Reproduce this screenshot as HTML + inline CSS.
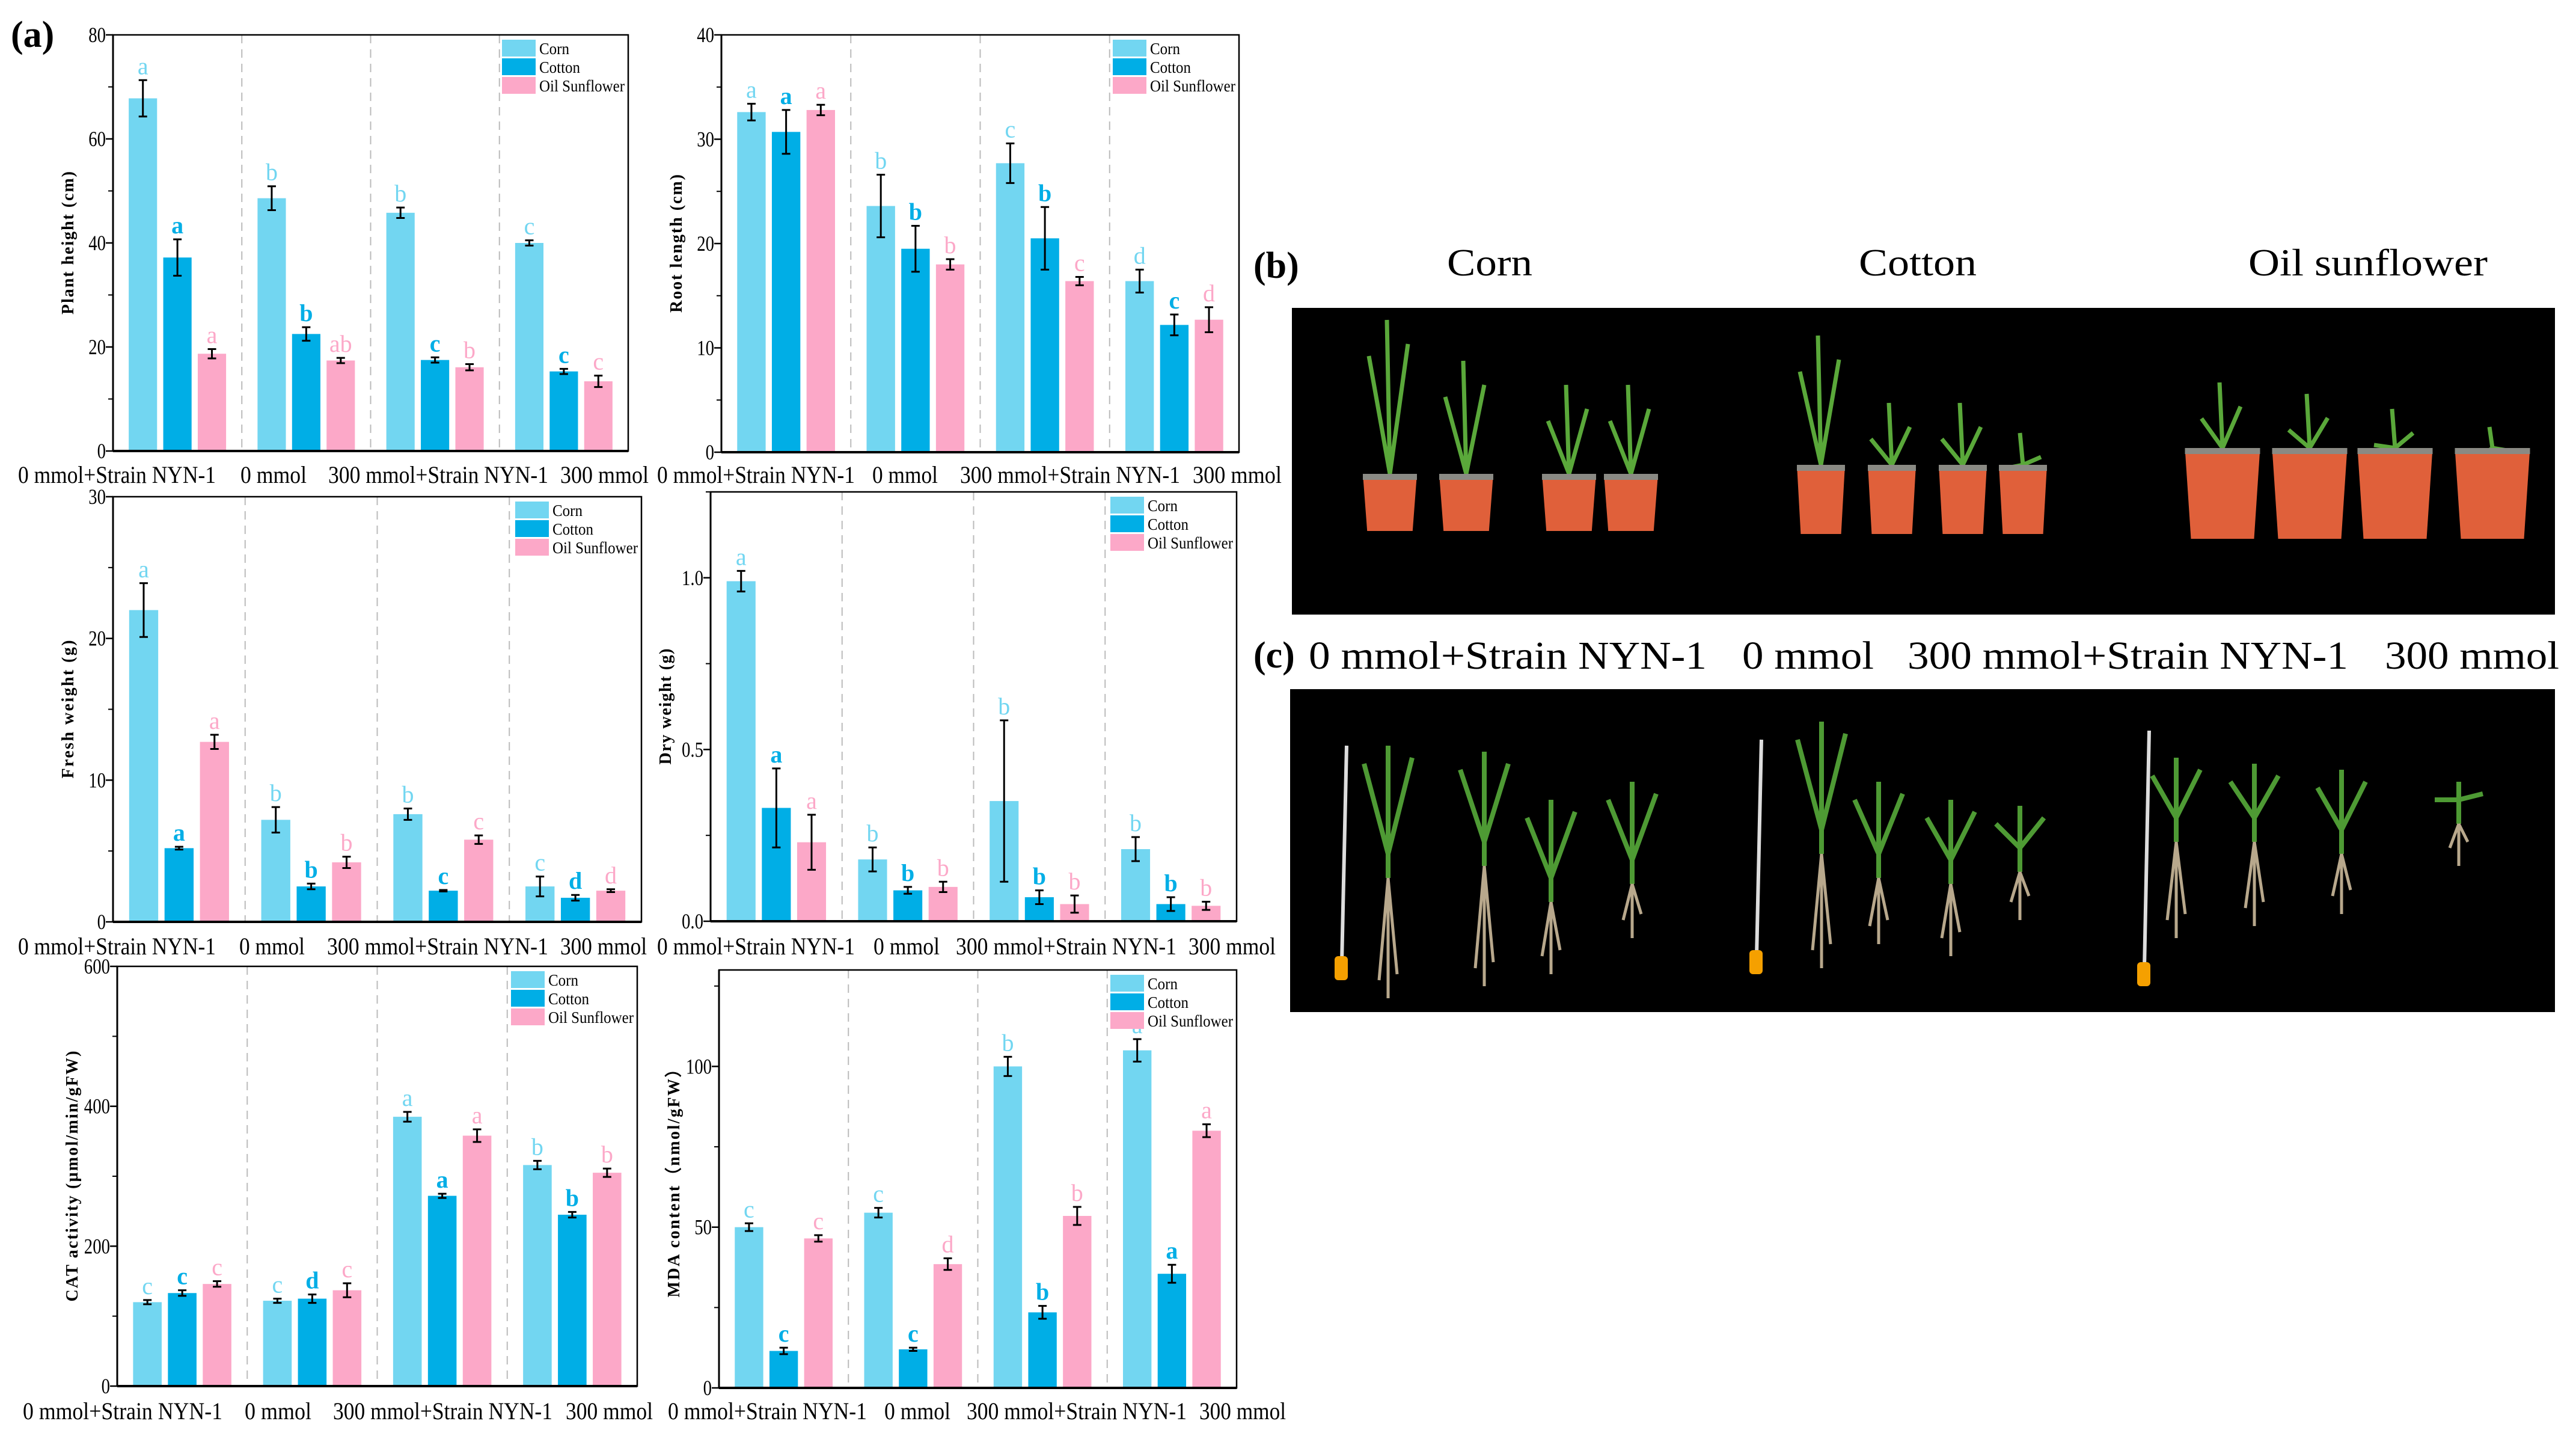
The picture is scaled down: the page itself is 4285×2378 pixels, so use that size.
<!DOCTYPE html>
<html><head><meta charset="utf-8"><style>
html,body{margin:0;padding:0;background:#fff;}
svg{display:block;}
text{font-family:"Liberation Serif",serif;}
</style></head>
<body>
<svg id="fig" xmlns="http://www.w3.org/2000/svg" width="4285" height="2378" viewBox="0 0 4285 2378">
<rect width="4285" height="2378" fill="#fff"/>
<text x="18" y="78" font-size="62" font-weight="bold">(a)</text>
<g id="charts"></g>
<text x="2085" y="462" font-size="62" font-weight="bold">(b)</text>
<text x="2478" y="458" font-size="64" text-anchor="middle" textLength="142" lengthAdjust="spacingAndGlyphs">Corn</text>
<text x="3190" y="458" font-size="64" text-anchor="middle" textLength="196" lengthAdjust="spacingAndGlyphs">Cotton</text>
<text x="3939" y="458" font-size="64" text-anchor="middle" textLength="398" lengthAdjust="spacingAndGlyphs">Oil sunflower</text>
<rect x="2149" y="512" width="2101" height="510" fill="#000"/>
<g id="pots"></g>
<text x="2085" y="1110" font-size="62" font-weight="bold">(c)</text>
<text x="2177" y="1112" font-size="66" textLength="662" lengthAdjust="spacingAndGlyphs">0 mmol+Strain NYN-1</text>
<text x="2898" y="1112" font-size="66" textLength="219" lengthAdjust="spacingAndGlyphs">0 mmol</text>
<text x="3173" y="1112" font-size="66" textLength="733" lengthAdjust="spacingAndGlyphs">300 mmol+Strain NYN-1</text>
<text x="3967" y="1112" font-size="66" textLength="290" lengthAdjust="spacingAndGlyphs">300 mmol</text>
<rect x="2146" y="1146" width="2104" height="537" fill="#000"/>
<g id="roots"></g>
</svg>
<script>
// ---------- data ----------
const groups = ["0 mmol+Strain NYN-1","0 mmol","300 mmol+Strain NYN-1","300 mmol"];
const seriesNames = ["Corn","Cotton","Oil Sunflower"];

const heightCorn = [67.8,48.6,45.8,40.0];
const heightCotton = [37.2,22.5,17.5,15.3];
const heightSun = [18.7,17.4,16.1,13.4];
const heightCornErr = [3.5,2.3,1.0,0.5];
const heightCottonErr = [3.5,1.3,0.5,0.5];
const heightSunErr = [0.9,0.5,0.6,1.1];
const heightLetters = [["a","b","b","c"],["a","b","c","c"],["a","ab","b","c"]];
const heightTicks = [0,20,40,60,80];

const rootCorn = [32.6,23.6,27.7,16.4];
const rootCotton = [30.7,19.5,20.5,12.2];
const rootSun = [32.8,18.0,16.4,12.7];
const rootCornErr = [0.8,3.0,1.9,1.1];
const rootCottonErr = [2.1,2.2,3.0,1.0];
const rootSunErr = [0.5,0.5,0.4,1.2];
const rootLetters = [["a","b","c","d"],["a","b","b","c"],["a","b","c","d"]];
const rootTicks = [0,10,20,30,40];

const freshCorn = [22.0,7.2,7.6,2.5];
const freshCotton = [5.2,2.5,2.2,1.7];
const freshSun = [12.7,4.2,5.8,2.2];
const freshCornErr = [1.9,0.9,0.4,0.7];
const freshCottonErr = [0.1,0.2,0.05,0.2];
const freshSunErr = [0.5,0.4,0.3,0.1];
const freshLetters = [["a","b","b","c"],["a","b","c","d"],["a","b","c","d"]];
const freshTicks = [0,10,20,30];

const dryCorn = [0.99,0.18,0.35,0.21];
const dryCotton = [0.33,0.09,0.07,0.05];
const drySun = [0.23,0.10,0.05,0.045];
const dryCornErr = [0.03,0.035,0.235,0.035];
const dryCottonErr = [0.115,0.01,0.02,0.02];
const drySunErr = [0.08,0.015,0.025,0.012];
const dryLetters = [["a","b","b","b"],["a","b","b","b"],["a","b","b","b"]];
const dryTicks = [0,0.5,1.0];
const dryTickLabels = ["0.0","0.5","1.0"];

const catCorn = [120,122,385,316];
const catCotton = [133,125,272,245];
const catSun = [146,137,358,305];
const catCornErr = [3,3,7,6];
const catCottonErr = [4,6,3,4];
const catSunErr = [4,10,9,6];
const catLetters = [["c","c","a","b"],["c","d","a","b"],["c","c","a","b"]];
const catTicks = [0,200,400,600];

const mdaCorn = [50,54.5,100,105];
const mdaCotton = [11.5,12,23.5,35.5];
const mdaSun = [46.5,38.5,53.5,80];
const mdaCornErr = [1.2,1.5,3,3.5];
const mdaCottonErr = [1,0.5,2,2.8];
const mdaSunErr = [1,1.8,2.8,2];
const mdaLetters = [["c","c","b","a"],["c","c","b","a"],["c","d","b","a"]];
const mdaTicks = [0,50,100];

// ---------- drawing ----------
const NS = "http://www.w3.org/2000/svg";
const colors = ["#72d6f1","#00aee6","#fca8c8"];
const root = document.getElementById("charts");
function mk(tag, attrs, parent){
  const e = document.createElementNS(NS, tag);
  for (const k in attrs) e.setAttribute(k, attrs[k]);
  (parent||root).appendChild(e);
  return e;
}

function drawChart(id, box, ymax, minorStep, ticks, tickLabels, title, titleLen, vals, errs, letters, labelY, labelSpans){
  const g = mk("g", {});
  
  
  const L=box[0], R=box[1], T=box[2], B=box[3], W=R-L;
  const y = v => B - (v/ymax)*(B-T);
  const x = i => L + (i+0.5)*W/4;
  for (let i=1;i<4;i++){
    const d = mk("line",{x1:L+i*W/4,x2:L+i*W/4,y1:T,y2:B,stroke:"#bbb","stroke-width":2,"stroke-dasharray":"14,10"},g);
    
    
  }
  const bw = 0.055*W, off = 0.067*W;
  for (let s=0;s<3;s++){
    for (let i=0;i<4;i++){
      const cx = x(i) + (s-1)*off;
      const v = vals[s][i], e = errs[s][i];
      const r = mk("rect",{x:cx-bw/2,y:y(v),width:bw,height:B-y(v),fill:colors[s]},g);
      
      
      const eb = mk("path",{d:`M${cx},${y(v+e)}V${y(v-e)}M${cx-7},${y(v+e)}H${cx+7}M${cx-7},${y(v-e)}H${cx+7}`,stroke:"#000","stroke-width":3,fill:"none"},g);
      
      
      const t = mk("text",{x:cx,y:y(v+e)-10,"text-anchor":"middle","font-size":40,fill:colors[s],"font-weight":s===1?"bold":"normal"},g);
      t.textContent = letters[s][i];
      
      
    }
  }
  const f = mk("rect",{x:L,y:T,width:W,height:B-T,fill:"none",stroke:"#000","stroke-width":2.5},g);
  
  
  mk("line",{x1:L,x2:R,y1:B,y2:B,stroke:"#000","stroke-width":4},g);
  mk("line",{x1:L,x2:L,y1:T,y2:B,stroke:"#000","stroke-width":3},g);
  for (let v=0; v<=ymax+1e-9; v+=minorStep){
    mk("line",{x1:L-8,x2:L,y1:y(v),y2:y(v),stroke:"#000","stroke-width":2},g);
  }
  ticks.forEach((v,k)=>{
    mk("line",{x1:L-12,x2:L,y1:y(v),y2:y(v),stroke:"#000","stroke-width":2.5},g);
    const t = mk("text",{x:L-12,y:y(v)+12,"text-anchor":"end","font-size":36,transform:`translate(${L-12},0) scale(0.8,1) translate(${-(L-12)},0)`},g);
    t.textContent = tickLabels ? tickLabels[k] : String(v);
    
    
  });
  const tt = mk("text",{x:0,y:0,"text-anchor":"middle","font-size":28,"font-weight":"bold",textLength:titleLen,lengthAdjust:"spacing",transform:`translate(${L-66},${(T+B)/2}) rotate(-90)`},g);
  tt.textContent = title;
  
  
  groups.forEach((n,i)=>{
    const sp = labelSpans[i];
    const t = mk("text",{x:sp[0],y:labelY,"font-size":40,textLength:sp[1]-sp[0],lengthAdjust:"spacingAndGlyphs"},g);
    t.textContent = n;
    
    
  });
  const lg = mk("g",{},g);
  
  
  const lw = [50,68,142];
  for (let s=0;s<3;s++){
    const sw = mk("rect",{x:R-210,y:T+8+s*31,width:56,height:28,fill:colors[s]},lg);
    
    
    const t = mk("text",{x:R-148,y:T+32+s*31,"font-size":27,textLength:lw[s],lengthAdjust:"spacingAndGlyphs"},lg);
    t.textContent = seriesNames[s];
    
    
  }
}

drawChart("plant-height",[188,1045,58,750],80,10,heightTicks,null,"Plant height (cm)",238,
  [heightCorn,heightCotton,heightSun],[heightCornErr,heightCottonErr,heightSunErr],heightLetters,803,
  [[30,359],[400,510],[546,912],[932,1079]]);
drawChart("root-length",[1200,2061,58,752],40,5,rootTicks,null,"Root length (cm)",230,
  [rootCorn,rootCotton,rootSun],[rootCornErr,rootCottonErr,rootSunErr],rootLetters,803,
  [[1093,1422],[1451,1560],[1597,1963],[1984,2132]]);
drawChart("fresh-weight",[188,1067,826,1533],30,5,freshTicks,null,"Fresh weight (g)",230,
  [freshCorn,freshCotton,freshSun],[freshCornErr,freshCottonErr,freshSunErr],freshLetters,1587,
  [[30,359],[398,507],[544,912],[932,1076]]);
drawChart("dry-weight",[1182,2057,818,1532],1.25,0.25,dryTicks,dryTickLabels,"Dry weight (g)",193,
  [dryCorn,dryCotton,drySun],[dryCornErr,dryCottonErr,drySunErr],dryLetters,1587,
  [[1093,1422],[1453,1563],[1590,1957],[1977,2122]]);
drawChart("cat-activity",[195,1060,1607,2305],600,100,catTicks,null,"CAT activity (µmol/min/gFW)",417,
  [catCorn,catCotton,catSun],[catCornErr,catCottonErr,catSunErr],catLetters,2360,
  [[38,370],[407,518],[554,919],[941,1086]]);
drawChart("mda-content",[1196,2057,1613,2308],130,25,mdaTicks,null,"MDA content（nmol/gFW）",394,
  [mdaCorn,mdaCotton,mdaSun],[mdaCornErr,mdaCottonErr,mdaSunErr],mdaLetters,2360,
  [[1111,1442],[1471,1581],[1608,1974],[1995,2139]]);

// ---------- photo illustrations ----------
const pots = document.getElementById("pots");
const potList = [[2312,788,883,90,532],[2439,788,883,90,600],[2610,788,883,90,640],[2713,788,883,90,640],
  [3029,773,888,80,558],[3147,773,888,80,670],[3265,773,888,80,670],[3365,773,888,80,720],
  [3697,745,896,125,636],[3842,745,896,125,655],[3984,745,896,125,680],[4146,745,896,125,710]];
potList.forEach(p=>{
  const [cx,top,bot,w,ptop]=p;
  const st = mk("path",{d:`M${cx},${top}L${cx-5},${ptop}M${cx},${top}L${cx+30},${ptop+40}M${cx},${top}L${cx-35},${ptop+60}`,stroke:"#5aa83a","stroke-width":7,fill:"none"},pots);
  
  
  const pt = mk("path",{d:`M${cx-w/2},${top}H${cx+w/2}L${cx+w*0.42},${bot}H${cx-w*0.42}Z`,fill:"#e0603a"},pots);
  
  
  mk("rect",{x:cx-w/2,y:top,width:w,height:10,fill:"#8a8a84"},pots);
});
const rootsG = document.getElementById("roots");
const tapes = [[2232,1240,1600],[2922,1230,1590],[3567,1215,1610]];
tapes.forEach(t=>{
  mk("line",{x1:t[0]+8,y1:t[1],x2:t[0],y2:t[2],stroke:"#ddd","stroke-width":6},rootsG);
  const o = mk("rect",{x:t[0]-12,y:t[2]-10,width:22,height:40,rx:6,fill:"#f5a000"},rootsG);
  
  
});
const seedlings = [[2309,1240,1460,1660],[2469,1250,1440,1640],[2580,1330,1500,1620],[2715,1300,1470,1560],
  [3030,1200,1420,1610],[3125,1300,1460,1570],[3245,1330,1470,1590],[3360,1340,1450,1530],
  [3620,1260,1400,1560],[3750,1270,1400,1540],[3895,1280,1420,1520],[4090,1300,1370,1440]];
seedlings.forEach(s=>{
  const [cx,t,m,b]=s;
  const sh = mk("path",{d:`M${cx},${m}L${cx},${t}M${cx},${m-40}L${cx-40},${t+30}M${cx},${m-40}L${cx+40},${t+20}`,stroke:"#4e9a34","stroke-width":8,fill:"none"},rootsG);
  
  
  const rt = mk("path",{d:`M${cx},${m}L${cx},${b}M${cx},${m}L${cx-15},${b-30}M${cx},${m}L${cx+15},${b-40}`,stroke:"#b8a88c","stroke-width":5,fill:"none"},rootsG);
  
  
});
</script>
</body></html>
